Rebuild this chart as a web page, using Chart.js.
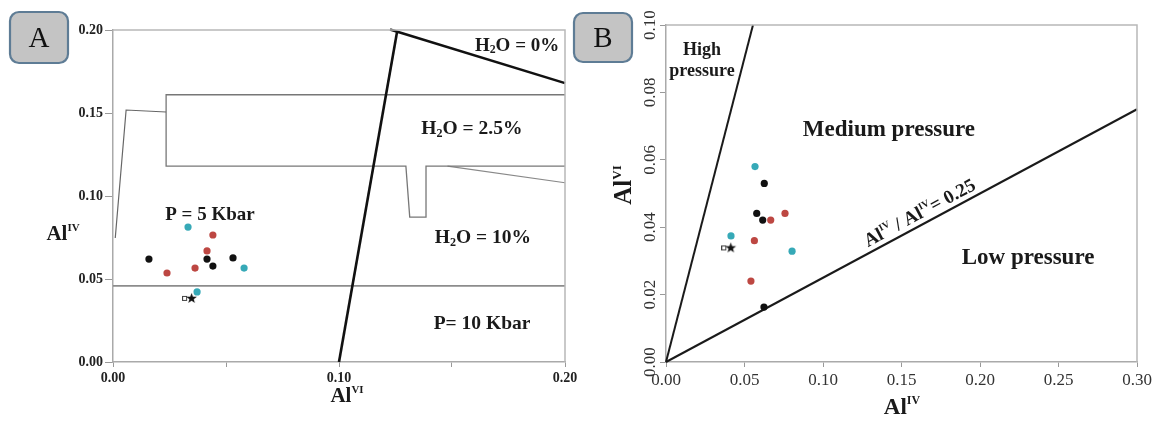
<!DOCTYPE html>
<html><head><meta charset="utf-8">
<script src="https://cdn.jsdelivr.net/npm/chart.js@4.4.1/dist/chart.umd.min.js"></script>
<style>
html,body{margin:0;padding:0;background:#fff;width:1154px;height:421px;overflow:hidden;}
#wa{position:absolute;left:0;top:0;width:577px;height:421px;}
#wb{position:absolute;left:570px;top:0;width:584px;height:421px;}
canvas{display:block;}
</style></head><body>
<div id="wa"><canvas id="ca" width="577" height="421"></canvas></div>
<div id="wb"><canvas id="cb" width="584" height="421"></canvas></div>
<script>
// ---------- Panel A data ----------
const aXTicks = [0, 0.05, 0.10, 0.15, 0.20];
const aXTickLabels = ['0.00', '0.10', '0.20'];
const aYTicks = [0, 0.05, 0.10, 0.15, 0.20];
const aBlack = [{x:0.0159,y:0.0620},{x:0.0416,y:0.0620},{x:0.0531,y:0.0627},{x:0.0442,y:0.0578}];
const aRed   = [{x:0.0442,y:0.0765},{x:0.0416,y:0.0669},{x:0.0363,y:0.0566},{x:0.0239,y:0.0536}];
const aCyan  = [{x:0.0332,y:0.0813},{x:0.0580,y:0.0566},{x:0.0372,y:0.0422}];
const aStar  = [{x:0.0341,y:0.0386}];
const aThinLeft = [{x:0.001,y:0.0747},{x:0.0058,y:0.1518},{x:0.0235,y:0.1506}];
const aUpperBox = [{x:0.20,y:0.161},{x:0.0235,y:0.161},{x:0.0235,y:0.118},{x:0.1296,y:0.118},{x:0.1313,y:0.0873},{x:0.1385,y:0.0873},{x:0.1385,y:0.118},{x:0.20,y:0.118}];
const aBranch = [{x:0.148,y:0.118},{x:0.20,y:0.108}];
const aP10Line = [{x:0,y:0.0458},{x:0.20,y:0.0458}];
const aSteep = [{x:0.10,y:0},{x:0.1257,y:0.199}];
const aH2O0 = [{x:0.1226,y:0.2003},{x:0.20,y:0.168}];

// ---------- Panel B data ----------
const bXTicks = [0, 0.05, 0.10, 0.15, 0.20, 0.25, 0.30];
const bYTicks = [0, 0.02, 0.04, 0.06, 0.08, 0.10];
const bBlack = [{x:0.0626,y:0.0530},{x:0.0578,y:0.0441},{x:0.0616,y:0.0421},{x:0.0624,y:0.0163}];
const bRed   = [{x:0.0667,y:0.0421},{x:0.0758,y:0.0441},{x:0.0563,y:0.0360},{x:0.0541,y:0.0240}];
const bCyan  = [{x:0.0567,y:0.0580},{x:0.0414,y:0.0374},{x:0.0803,y:0.0329}];
const bStar  = [{x:0.0403,y:0.0340}];
const bRatio = 0.25;
const bHighLine = [{x:0,y:0},{x:0.0554,y:0.10}];
const bRatioLine = [{x:0,y:0},{x:0.30,y:bRatio*0.30}];

// ---------- styling ----------
const SERIF = "'Liberation Serif','Times New Roman',serif";
const RED = '#bd4742', CYAN = '#36a9b7', BLACK = '#111';

function makeStar(){
  const c = document.createElement('canvas'); c.width = 16; c.height = 12;
  const g = c.getContext('2d');
  g.strokeStyle = '#444'; g.lineWidth = 1; g.strokeRect(0.5, 4.5, 4, 4);
  g.fillStyle = '#111'; g.beginPath();
  for (let i = 0; i < 10; i++) {
    const r = i % 2 ? 2.3 : 5.6, a = -Math.PI/2 + i*Math.PI/5;
    g.lineTo(9.5 + r*Math.cos(a), 6.5 + r*Math.sin(a));
  }
  g.closePath(); g.fill();
  return c;
}
const STAR = makeStar();

function pts(data, color){ return {data, backgroundColor:color, borderColor:color, pointRadius:3.6, pointBorderWidth:0, showLine:false}; }
function star(data){ return {data, pointStyle:STAR, pointRadius:6, showLine:false}; }
function line(data, color, w){ return {data, showLine:true, borderColor:color, borderWidth:w, pointRadius:0, fill:false, tension:0, clip:4}; }

function fixSize(prop, size){
  return function(s){ s[prop] = size; s.paddingLeft = 0; s.paddingRight = 0; s.paddingTop = 0; s.paddingBottom = 0; };
}
function setTicks(arr){ return function(s){ s.ticks = arr.map(v => ({value:v})); }; }

// rich text: "H_{2}O", "Al^{IV}"
function parseRich(str){
  const parts = str.split(/(\^\{[^}]*\}|_\{[^}]*\})/).filter(p => p.length);
  return parts.map(p => {
    if (p.startsWith('^{')) return {t:p.slice(2,-1), k:'sup'};
    if (p.startsWith('_{')) return {t:p.slice(2,-1), k:'sub'};
    return {t:p, k:'n'};
  });
}
function drawRich(ctx, str, x, y, size, bold, color){
  const segs = parseRich(str);
  const w = bold ? 'bold ' : '';
  let total = 0;
  segs.forEach(s => {
    s.size = s.k === 'n' ? size : (s.k === 'sup' ? size*0.52 : size*0.62);
    s.dy = s.k === 'sup' ? -size*0.42 : (s.k === 'sub' ? size*0.12 : 0);
    ctx.font = w + s.size + 'px ' + SERIF;
    s.w = ctx.measureText(s.t).width;
    total += s.w;
  });
  let cx = x - total/2;
  const base = y + size*0.33;
  ctx.fillStyle = color || '#1a1a1a';
  ctx.textAlign = 'left'; ctx.textBaseline = 'alphabetic';
  segs.forEach(s => {
    ctx.font = w + s.size + 'px ' + SERIF;
    ctx.fillText(s.t, cx, base + s.dy);
    cx += s.w;
  });
}

function makeDecor(cfg){
  return {
    id: 'decor' + cfg.name,
    afterDatasetsDraw(chart){
      const ctx = chart.ctx, ca = chart.chartArea, xs = chart.scales.x, ys = chart.scales.y;
      ctx.save();
      // frame top & right
      ctx.strokeStyle = '#b8b8b8'; ctx.lineWidth = 1.5;
      ctx.beginPath(); ctx.moveTo(ca.left, ca.top); ctx.lineTo(ca.right, ca.top); ctx.lineTo(ca.right, ca.bottom); ctx.stroke();
      // notes in data coordinates
      cfg.notes.forEach(n => {
        const lines = n.text.split('\n');
        lines.forEach((ln, i) => {
          drawRich(ctx, ln, xs.getPixelForValue(n.x), ys.getPixelForValue(n.y) + (i - (lines.length-1)/2)*n.size*1.15, n.size, true);
        });
      });
      // axis titles relative to plot area
      cfg.titles.forEach(t => {
        ctx.save();
        ctx.translate(ca.left + t.dx, t.fromBottom ? ca.bottom + t.dy : ca.top + t.dy);
        if (t.rot) ctx.rotate(t.rot);
        drawRich(ctx, t.text, 0, 0, t.size, true);
        ctx.restore();
      });
      // line label along a line
      if (cfg.lineLabel) {
        const L = cfg.lineLabel;
        const x0 = xs.getPixelForValue(0), y0 = ys.getPixelForValue(0);
        const x1 = xs.getPixelForValue(L.xEnd), y1 = ys.getPixelForValue(L.ratio*L.xEnd);
        const ang = Math.atan2(y1 - y0, x1 - x0);
        const px = xs.getPixelForValue(L.at), py = ys.getPixelForValue(L.ratio*L.at);
        ctx.save(); ctx.translate(px, py); ctx.rotate(ang);
        drawRich(ctx, L.text, 0, -L.offset, L.size, true);
        ctx.restore();
      }
      // panel letter box
      const b = cfg.box;
      ctx.beginPath();
      ctx.roundRect(b.x, b.y, b.w, b.h, 9);
      ctx.fillStyle = '#c4c4c4'; ctx.fill();
      ctx.strokeStyle = '#5e7c95'; ctx.lineWidth = 2.2; ctx.stroke();
      ctx.fillStyle = '#111'; ctx.font = '29px ' + SERIF; ctx.textAlign = 'center'; ctx.textBaseline = 'middle';
      ctx.fillText(b.letter, b.x + b.w/2, b.y + b.h/2 + 2);
      ctx.restore();
    }
  };
}

const common = {
  responsive:false, animation:false, events:[],
  plugins:{legend:{display:false}, tooltip:{enabled:false}}
};

// ---------- Chart A ----------
new Chart(document.getElementById('ca'), {
  type:'scatter',
  data:{datasets:[
    pts(aBlack, BLACK), pts(aRed, RED), pts(aCyan, CYAN), star(aStar),
    line(aSteep, '#111', 2.6), line(aH2O0, '#111', 2.6),
    line(aThinLeft, '#666', 1.2), line(aUpperBox, '#777', 1.3), line(aBranch, '#888', 1.2),
    line(aP10Line, '#8c8c8c', 1.8)
  ]},
  options:Object.assign({}, common, {
    layout:{padding:{left:0, top:30, right:12, bottom:0}},
    scales:{
      x:{type:'linear', min:0, max:0.2, afterBuildTicks:setTicks(aXTicks), afterFit:fixSize('height', 59),
        grid:{drawOnChartArea:false, drawTicks:true, tickLength:5, color:'#999'},
        border:{color:'#aaa', width:1.5},
        ticks:{font:{family:SERIF, size:14, weight:'bold'}, color:'#222', padding:3, maxRotation:0, autoSkip:false,
          callback:v => { const s = Number(v).toFixed(2); return aXTickLabels.includes(s) ? s : ''; }}},
      y:{type:'linear', min:0, max:0.2, afterBuildTicks:setTicks(aYTicks), afterFit:fixSize('width', 113),
        grid:{drawOnChartArea:false, drawTicks:true, tickLength:8, color:'#999'},
        border:{color:'#aaa', width:1.5},
        ticks:{font:{family:SERIF, size:14, weight:'bold'}, color:'#222', padding:2, autoSkip:false,
          callback:v => Number(v).toFixed(2)}}
    }
  }),
  plugins:[makeDecor({
    name:'A',
    notes:[
      {text:'H_{2}O = 0%', x:0.1788, y:0.191, size:19},
      {text:'H_{2}O = 2.5%', x:0.1588, y:0.141, size:19.5},
      {text:'H_{2}O = 10%', x:0.1637, y:0.0753, size:19.5},
      {text:'P= 10 Kbar', x:0.1633, y:0.0235, size:19.5},
      {text:'P = 5 Kbar', x:0.0429, y:0.0892, size:19}
    ],
    titles:[
      {text:'Al^{IV}', dx:-50, dy:203, size:21},
      {text:'Al^{VI}', dx:234, dy:33, size:21, fromBottom:true}
    ],
    box:{x:10, y:12, w:58, h:51, letter:'A'}
  })]
});

// ---------- Chart B ----------
new Chart(document.getElementById('cb'), {
  type:'scatter',
  data:{datasets:[
    pts(bBlack, BLACK), pts(bRed, RED), pts(bCyan, CYAN), star(bStar),
    line(bHighLine, '#1a1a1a', 2), line(bRatioLine, '#1a1a1a', 2)
  ]},
  options:Object.assign({}, common, {
    layout:{padding:{left:0, top:25, right:17, bottom:0}},
    scales:{
      x:{type:'linear', min:0, max:0.3, afterBuildTicks:setTicks(bXTicks), afterFit:fixSize('height', 59),
        grid:{drawOnChartArea:false, drawTicks:true, tickLength:5, color:'#999'},
        border:{color:'#aaa', width:1.5},
        ticks:{font:{family:SERIF, size:17}, color:'#333', padding:3, maxRotation:0, autoSkip:false,
          callback:v => Number(v).toFixed(2)}},
      y:{type:'linear', min:0, max:0.1, afterBuildTicks:setTicks(bYTicks), afterFit:fixSize('width', 96),
        grid:{drawOnChartArea:false, drawTicks:true, tickLength:6, color:'#999'},
        border:{color:'#aaa', width:1.5},
        ticks:{font:{family:SERIF, size:17}, color:'#333', padding:-5, minRotation:90, maxRotation:90, crossAlign:'center', autoSkip:false,
          callback:v => Number(v).toFixed(2)}}
    }
  }),
  plugins:[makeDecor({
    name:'B',
    notes:[
      {text:'High\npressure', x:0.0229, y:0.0897, size:18},
      {text:'Medium pressure', x:0.142, y:0.0694, size:23},
      {text:'Low pressure', x:0.2306, y:0.0312, size:23}
    ],
    titles:[
      {text:'Al^{VI}', dx:-43, dy:160, size:25, rot:-Math.PI/2},
      {text:'Al^{IV}', dx:236, dy:44, size:23, fromBottom:true}
    ],
    lineLabel:{text:'Al^{IV} / Al^{IV}= 0.25', ratio:bRatio, xEnd:0.30, at:0.165, offset:12, size:19},
    box:{x:4, y:13, w:58, h:49, letter:'B'}
  })]
});
</script>
</body></html>
